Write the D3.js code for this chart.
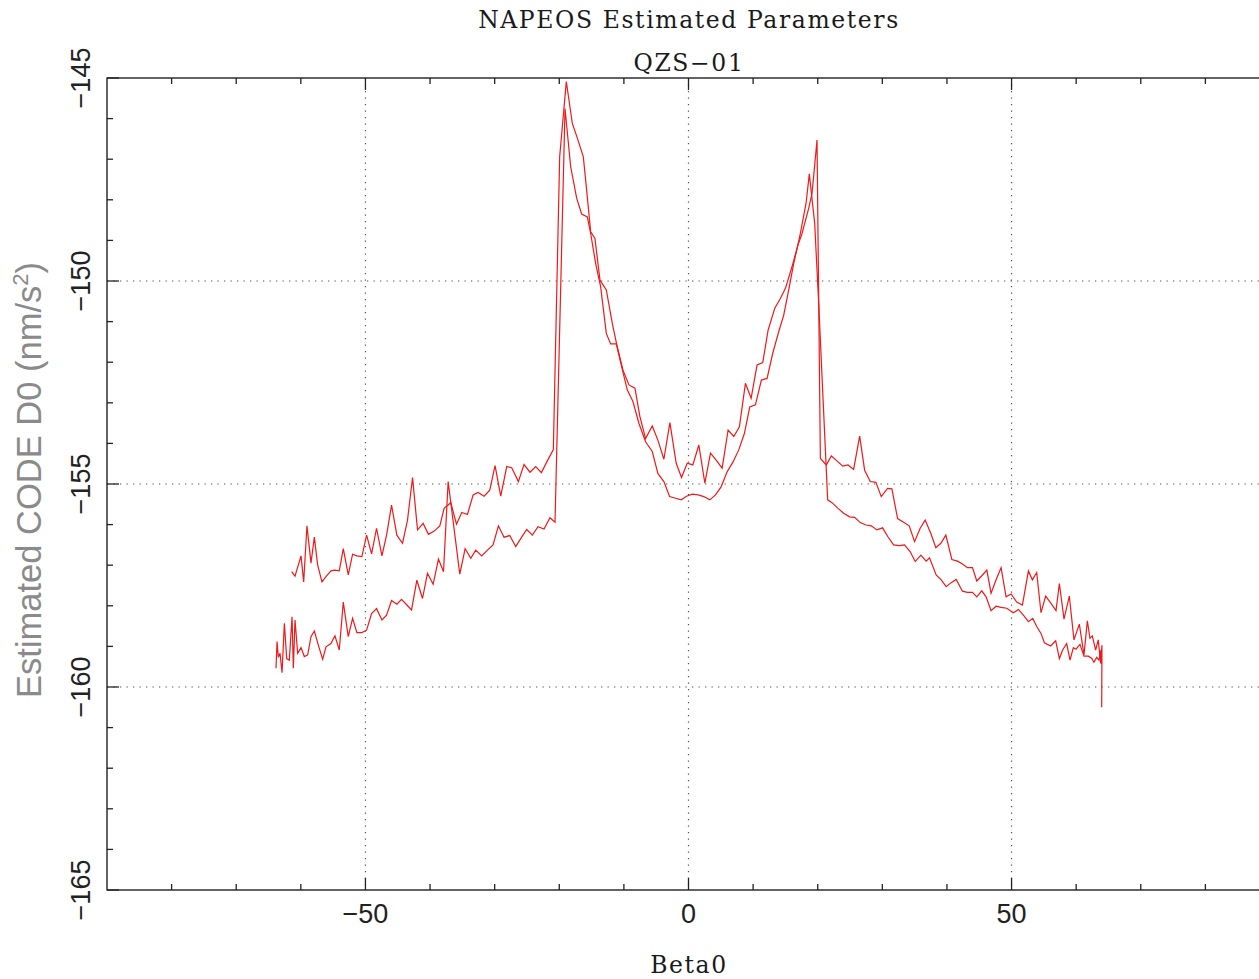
<!DOCTYPE html>
<html lang="en">
<head>
    <meta charset="UTF-8">
    <title>NAPEOS Estimated Parameters - QZS-01</title>
    <script src="https://d3js.org/d3.v7.min.js"></script>
    <style>
        body { margin: 0; background: #fff; }
        .serif { font-family: "DejaVu Serif", serif; fill: #1a1a1a; }
        .tick-label { font-family: "Liberation Sans", Arial, sans-serif; font-size: 27px; fill: #222; }
    </style>
</head>
<body>
    <svg width="1259" height="979"></svg>

    <script>
        // axis ranges and ticks
        var xDomain = [-90, 90];
        var yDomain = [-165, -145];
        var xMajor = [-50, 0, 50];
        var xMinor = [-80, -70, -60, -40, -30, -20, -10, 10, 20, 30, 40, 60, 70, 80];
        var yMajor = [-165, -160, -155, -150, -145];
        var yMinor = [-164, -163, -162, -161, -159, -158, -157, -156, -154, -153, -152, -151, -149, -148, -147, -146];

        // series A: [beta0, D0]
        var seriesA = [
            [-61.42,-157.16],[-60.90,-157.27],[-59.97,-156.77],[-59.56,-157.41],[-59.05,-156.03],[-58.43,-156.95],
            [-57.91,-156.31],[-57.40,-156.99],[-56.73,-157.41],[-56.11,-157.28],[-55.34,-157.14],[-54.72,-157.12],
            [-54.05,-157.14],[-53.43,-156.59],[-52.66,-157.24],[-51.99,-156.73],[-51.32,-156.77],[-50.55,-156.79],
            [-49.82,-156.26],[-49.05,-156.72],[-48.28,-156.09],[-47.45,-156.77],[-46.73,-156.26],[-45.96,-155.52],
            [-45.14,-156.26],[-44.26,-156.46],[-43.49,-155.89],[-42.71,-154.84],[-41.94,-156.13],[-41.07,-155.97],
            [-40.24,-156.24],[-39.37,-156.16],[-38.49,-156.03],[-37.82,-155.60],[-36.79,-155.46],[-35.91,-155.99],
            [-35.09,-155.70],[-34.21,-155.75],[-33.34,-155.27],[-32.56,-155.21],[-31.64,-155.30],[-30.76,-155.15],
            [-29.94,-154.55],[-29.06,-155.30],[-28.13,-154.57],[-27.36,-154.60],[-26.33,-154.94],[-25.46,-154.52],
            [-24.53,-154.71],[-23.65,-154.57],[-22.77,-154.72],[-21.85,-154.43],[-20.92,-154.15],[-19.94,-146.94],
            [-18.91,-145.09],[-17.98,-146.12],[-17.10,-146.53],[-16.28,-146.94],[-15.92,-147.51],[-15.14,-148.79],
            [-14.48,-148.95],[-13.70,-149.98],[-12.72,-150.22],[-11.80,-151.04],[-11.13,-151.55],[-10.15,-152.19],
            [-9.22,-152.56],[-8.29,-152.64],[-7.52,-153.34],[-6.64,-153.88],[-5.61,-153.57],[-4.74,-153.92],
            [-3.81,-154.39],[-2.88,-153.49],[-1.90,-154.49],[-1.08,-154.84],[-0.20,-154.49],[0.67,-154.53],
            [1.60,-154.04],[2.53,-154.98],[3.40,-154.24],[4.28,-154.41],[5.21,-154.61],[6.13,-153.67],
            [7.01,-153.83],[7.88,-153.59],[8.81,-152.52],[9.69,-152.89],[10.61,-152.07],[11.49,-152.01],
            [12.32,-151.21],[13.35,-150.67],[14.22,-150.43],[15.00,-150.18],[16.02,-149.65],[16.95,-149.11],
            [17.57,-148.83],[18.60,-148.21],[19.12,-147.84],[19.89,-146.53],[20.41,-154.37],[21.33,-154.53],
            [22.11,-154.31],[22.98,-154.43],[23.86,-154.56],[24.68,-154.53],[25.56,-154.64],[26.49,-153.82],
            [27.26,-154.66],[28.13,-154.94],[29.01,-154.96],[29.83,-155.31],[30.81,-155.11],[31.48,-155.12],
            [32.36,-155.85],[33.29,-155.94],[34.16,-156.03],[34.99,-156.42],[35.86,-156.09],[36.63,-155.89],
            [37.51,-156.22],[38.28,-156.57],[39.06,-156.46],[39.83,-156.26],[40.76,-156.86],[41.63,-156.90],
            [42.40,-156.97],[43.18,-157.06],[43.95,-157.06],[44.62,-157.39],[45.39,-157.26],[46.17,-157.12],
            [46.83,-157.69],[47.61,-157.36],[48.38,-157.06],[49.15,-157.78],[49.93,-157.71],[50.80,-157.91],
            [51.68,-157.98],[52.61,-157.14],[53.22,-157.36],[53.89,-157.18],[54.56,-158.17],[55.28,-157.76],
            [56.11,-157.94],[56.88,-158.12],[57.40,-157.45],[58.12,-158.33],[58.94,-157.76],[59.66,-158.84],
            [60.49,-158.45],[61.21,-159.21],[61.73,-158.37],[62.14,-158.80],[62.50,-158.74],[63.01,-159.09],
            [63.42,-158.84],[63.79,-159.42],[63.99,-158.97],[63.95,-160.50]
        ];

        // series B: [beta0, D0]
        var seriesB = [
            [-63.84,-159.54],[-63.68,-158.88],[-63.48,-159.27],[-63.22,-159.17],[-62.91,-159.65],[-62.55,-158.43],
            [-62.19,-159.30],[-61.78,-159.34],[-61.36,-158.27],[-61.16,-159.54],[-60.90,-158.35],[-60.49,-159.17],
            [-59.97,-159.03],[-59.46,-159.25],[-58.94,-159.21],[-58.43,-158.76],[-57.91,-158.62],[-57.29,-158.97],
            [-56.62,-159.32],[-56.11,-159.01],[-55.34,-158.93],[-54.72,-158.74],[-54.05,-159.09],[-53.43,-157.91],
            [-52.66,-158.76],[-51.99,-158.31],[-51.32,-158.66],[-50.55,-158.66],[-49.82,-158.60],[-49.05,-158.19],
            [-48.28,-158.07],[-47.45,-158.35],[-46.73,-158.23],[-45.96,-157.87],[-45.14,-157.96],[-44.41,-157.84],
            [-43.59,-157.98],[-42.87,-158.10],[-42.04,-157.37],[-41.17,-157.82],[-40.40,-157.20],[-39.52,-157.47],
            [-38.70,-156.85],[-37.92,-157.16],[-37.20,-154.94],[-35.40,-157.22],[-34.57,-156.59],[-33.70,-156.83],
            [-32.93,-156.63],[-32.00,-156.77],[-31.12,-156.63],[-30.25,-156.50],[-29.42,-156.03],[-28.55,-156.31],
            [-27.67,-156.27],[-26.74,-156.54],[-25.87,-156.32],[-25.04,-156.12],[-24.17,-156.26],[-23.29,-156.05],
            [-22.36,-156.11],[-21.44,-155.83],[-20.66,-155.94],[-19.11,-145.75],[-18.24,-147.18],[-17.31,-147.96],
            [-16.54,-148.35],[-15.66,-148.42],[-15.14,-148.83],[-14.37,-149.57],[-13.60,-150.14],[-12.72,-151.29],
            [-12.05,-151.55],[-11.18,-151.55],[-10.35,-152.11],[-9.48,-152.68],[-8.60,-152.97],[-7.67,-153.51],
            [-6.64,-153.96],[-5.61,-154.20],[-4.74,-154.74],[-3.81,-154.94],[-2.93,-155.31],[-2.01,-155.35],
            [-1.13,-155.39],[-0.31,-155.30],[0.57,-155.25],[1.50,-155.27],[2.37,-155.31],[3.30,-155.39],
            [4.18,-155.27],[5.05,-155.07],[5.98,-154.70],[6.91,-154.45],[7.78,-154.16],[8.66,-153.75],
            [9.48,-153.10],[10.36,-153.05],[11.28,-152.44],[12.16,-152.40],[13.04,-151.78],[13.96,-151.25],
            [14.74,-150.84],[15.51,-150.22],[16.28,-149.57],[17.21,-148.91],[18.19,-148.09],[18.70,-147.36],
            [19.53,-148.58],[20.15,-150.55],[21.54,-155.39],[22.21,-155.46],[23.14,-155.60],[24.01,-155.72],
            [24.94,-155.81],[25.71,-155.82],[26.59,-155.95],[27.46,-156.01],[28.29,-156.03],[29.16,-156.13],
            [30.04,-156.08],[30.86,-156.30],[31.74,-156.50],[32.62,-156.52],[33.44,-156.50],[34.32,-156.67],
            [35.09,-156.91],[35.96,-156.75],[36.79,-156.90],[37.30,-156.82],[38.33,-157.24],[39.11,-157.36],
            [39.88,-157.53],[40.65,-157.43],[41.43,-157.35],[42.40,-157.64],[43.18,-157.67],[43.95,-157.67],
            [44.62,-157.78],[45.39,-157.63],[46.06,-157.78],[46.83,-158.12],[47.61,-158.01],[48.38,-158.04],
            [49.26,-158.06],[50.29,-158.17],[51.06,-158.09],[51.83,-158.23],[52.61,-158.39],[53.28,-158.31],
            [53.89,-158.51],[54.56,-158.68],[55.08,-158.91],[56.06,-158.99],[56.83,-158.86],[57.40,-159.30],
            [57.91,-159.09],[58.53,-158.93],[59.05,-159.34],[59.56,-159.03],[59.97,-159.07],[60.59,-158.95],
            [61.21,-159.24],[61.88,-159.24],[62.39,-159.29],[62.75,-159.39],[63.17,-159.27],[63.53,-159.34],
            [63.84,-159.09],[63.94,-159.42]
        ];

        var svg = d3.select("svg");

        // plot frame (right edge falls just outside the picture)
        var mLeft = 107, mRight = 1270, mTop = 78, mBottom = 890;

        var x = d3.scaleLinear().domain(xDomain).range([mLeft, mRight]);
        var y = d3.scaleLinear().domain(yDomain).range([mBottom, mTop]);

        // dotted grid at major ticks
        var grid = svg.append("g")
            .attr("stroke", "#555")
            .attr("stroke-width", 1.2)
            .attr("stroke-dasharray", "1.3,5.2");
        grid.selectAll(".gx").data(xMajor).enter().append("line")
            .attr("x1", d => x(d)).attr("x2", d => x(d))
            .attr("y1", mTop).attr("y2", mBottom);
        grid.selectAll(".gy").data(yMajor.slice(1, -1)).enter().append("line")
            .attr("x1", mLeft).attr("x2", mRight)
            .attr("y1", d => y(d)).attr("y2", d => y(d));

        // data lines
        var line = d3.line().x(d => x(d[0])).y(d => y(d[1]));
        svg.selectAll(".series").data([seriesA, seriesB]).enter().append("path")
            .attr("d", line)
            .attr("fill", "none")
            .attr("stroke", "#f01818")
            .attr("stroke-width", 1.2)
            .attr("stroke-linejoin", "miter");

        // frame
        svg.append("rect")
            .attr("x", mLeft).attr("y", mTop)
            .attr("width", mRight - mLeft).attr("height", mBottom - mTop)
            .attr("fill", "none").attr("stroke", "#222").attr("stroke-width", 1.4);

        // inward ticks on bottom and top
        var ticks = svg.append("g").attr("stroke", "#222").attr("stroke-width", 1.3);
        [mBottom, mTop].forEach(function(edge) {
            var dir = edge === mBottom ? -1 : 1;
            ticks.selectAll(null).data(xMajor).enter().append("line")
                .attr("x1", d => x(d)).attr("x2", d => x(d))
                .attr("y1", edge).attr("y2", edge + dir * 12);
            ticks.selectAll(null).data(xMinor).enter().append("line")
                .attr("x1", d => x(d)).attr("x2", d => x(d))
                .attr("y1", edge).attr("y2", edge + dir * 6);
        });
        ticks.selectAll(null).data(yMajor).enter().append("line")
            .attr("x1", mLeft).attr("x2", mLeft + 12)
            .attr("y1", d => y(d)).attr("y2", d => y(d));
        ticks.selectAll(null).data(yMinor).enter().append("line")
            .attr("x1", mLeft).attr("x2", mLeft + 6)
            .attr("y1", d => y(d)).attr("y2", d => y(d));

        // tick labels
        var fmt = d => (d < 0 ? "\u2212" + Math.abs(d) : String(d));
        svg.selectAll(".xl").data(xMajor).enter().append("text")
            .attr("class", "tick-label")
            .attr("x", d => x(d)).attr("y", 923)
            .attr("text-anchor", "middle")
            .text(fmt);
        svg.selectAll(".yl").data(yMajor).enter().append("text")
            .attr("class", "tick-label")
            .attr("transform", d => "translate(90," + y(d) + ") rotate(-90)")
            .attr("text-anchor", "middle")
            .text(fmt);

        // titles
        svg.append("text").attr("class", "serif")
            .attr("x", 689).attr("y", 28)
            .attr("text-anchor", "middle")
            .attr("font-size", 23.5).attr("letter-spacing", 1.6)
            .text("NAPEOS Estimated Parameters");
        svg.append("text").attr("class", "serif")
            .attr("x", 689).attr("y", 71)
            .attr("text-anchor", "middle")
            .attr("font-size", 23.5).attr("letter-spacing", 1.6)
            .text("QZS\u221201");
        svg.append("text").attr("class", "serif")
            .attr("x", 689).attr("y", 973)
            .attr("text-anchor", "middle")
            .attr("font-size", 23.5).attr("letter-spacing", 1.6)
            .text("Beta0");

        // y axis title
        var yt = svg.append("text")
            .attr("transform", "translate(41,480) rotate(-90)")
            .attr("text-anchor", "middle")
            .attr("font-family", "Liberation Sans, Arial, sans-serif")
            .attr("font-size", 34.5)
            .attr("fill", "#8a8a8a");
        yt.append("tspan").text("Estimated CODE D0 (nm/s");
        yt.append("tspan").attr("font-size", 22).attr("dy", -13).text("2");
        yt.append("tspan").attr("dy", 13).text(")");
    </script>
</body>
</html>
